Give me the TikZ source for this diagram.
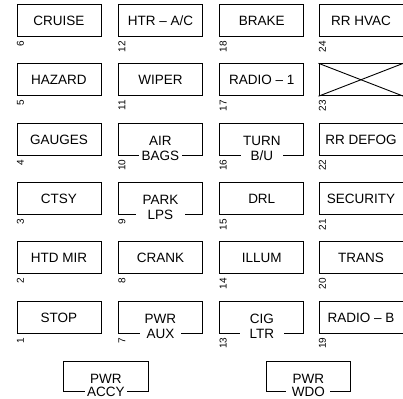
\documentclass[tikz,border=0pt]{standalone}
\usepackage{fontspec}
\setmainfont{Liberation Sans}
\newcommand\lblfont{\fontsize{13.5}{15}\selectfont}
\tikzset{
  fuse/.style={draw, line width=0.9pt, minimum width=84pt, minimum height=32pt,
    anchor=north west, inner sep=0pt, text height=9.7pt, text depth=0pt, font=\lblfont},
  wide/.style={minimum width=84.3pt, minimum height=30pt},
  num/.style={rotate=90, anchor=east, inner sep=0pt, font=\fontsize{10}{11}\selectfont},
  upper/.style={anchor=north, inner sep=0pt, yshift=-12.5pt, text height=9.7pt, text depth=0pt, font=\lblfont},
  lower/.style={fill=white, inner ysep=1.5pt, inner xsep=#1, text height=9.7pt, text depth=0pt, font=\lblfont},
  lower/.default=3pt
}
% \fusebox{name}{x}{y}{text}{number}
\newcommand\fusebox[5]{%
  \node[fuse] (b#1) at (#2,#3) {#4};
  \node[num] (n#1) at ([xshift=4pt,yshift=-4pt]b#1.south west) {#5};}
% \splitbox{name}{x}{y}{line1}{line2}{gap pad}{number}
\newcommand\splitbox[7]{%
  \node[fuse] (b#1) at (#2,#3) {};
  \node[upper] (u#1) at (b#1.north) {#4};
  \node[lower=#6] (l#1) at (b#1.south) {#5};
  \node[num] (n#1) at ([xshift=4pt,yshift=-4pt]b#1.south west) {#7};}
\begin{document}
\begin{tikzpicture}[x=1pt,y=-1pt]
\useasboundingbox (0,0) rectangle (403,398);
% column 1
\fusebox{6}{16.5}{4}{CRUISE}{6}
\fusebox{5}{16.5}{63.3}{HAZARD}{5}
\fusebox{4}{16.5}{122.7}{GAUGES}{4}
\fusebox{3}{16.5}{182}{CTSY}{3}
\fusebox{2}{16.5}{241.3}{HTD MIR}{2}
\fusebox{1}{16.5}{300.7}{STOP}{1}
% column 2
\fusebox{12}{118}{4}{HTR -- A/C}{12}
\fusebox{11}{118}{63.3}{WIPER}{11}
\splitbox{10}{118}{122.7}{AIR}{BAGS}{2.5pt}{10}
\splitbox{9}{118}{182}{PARK}{LPS}{12pt}{9}
\fusebox{8}{118}{241.3}{CRANK}{8}
\splitbox{7}{118}{300.7}{PWR}{AUX}{7pt}{7}
% column 3
\fusebox{18}{219.3}{4}{BRAKE}{18}
\fusebox{17}{219.3}{63.3}{RADIO -- 1}{17}
\splitbox{16}{219.3}{122.7}{TURN}{B/U}{10pt}{16}
\fusebox{15}{219.3}{182}{DRL}{15}
\fusebox{14}{219.3}{241.3}{ILLUM}{14}
\splitbox{13}{219.3}{300.7}{CIG}{LTR}{9.5pt}{13}
% column 4
\fusebox{24}{318.5}{4}{RR HVAC}{24}
\fusebox{23}{318.5}{63.3}{}{23}
\draw[line width=0.9pt] (b23.north west) -- (b23.south east);
\draw[line width=0.9pt] (b23.south west) -- (b23.north east);
\fusebox{22}{318.5}{122.7}{RR DEFOG}{22}
\fusebox{21}{318.5}{182}{SECURITY}{21}
\fusebox{20}{318.5}{241.3}{TRANS}{20}
\fusebox{19}{318.5}{300.7}{RADIO -- B}{19}
% bottom pair
\node[fuse, wide] (bA) at (63.3,361) {};
\node[upper] (uA) at (bA.north) {PWR};
\node[lower=2pt] (lA) at (bA.south) {ACCY};
\node[fuse, wide] (bW) at (265.7,361) {};
\node[upper] (uW) at (bW.north) {PWR};
\node[lower=5.5pt] (lW) at (bW.south) {WDO};
\end{tikzpicture}
\end{document}
